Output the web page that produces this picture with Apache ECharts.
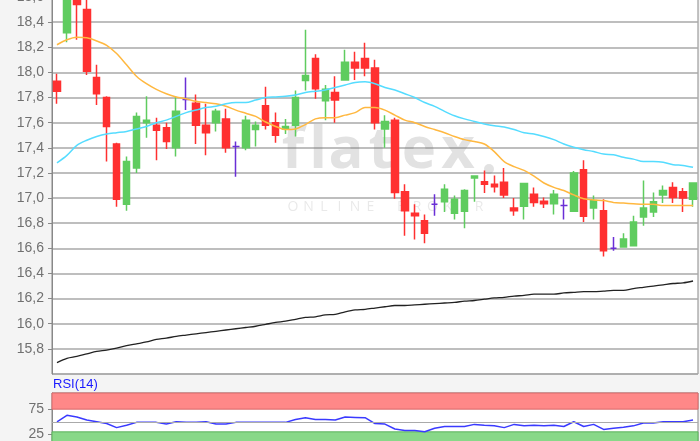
<!DOCTYPE html>
<html>
<head>
<meta charset="utf-8">
<style>
  html, body { margin: 0; padding: 0; background: #f4f4f4; }
  #chart { width: 700px; height: 441px; }
</style>
<script src="https://cdn.jsdelivr.net/npm/echarts@6/dist/echarts.min.js"></script>
</head>
<body>
<div id="chart"></div>
<script>
// daily candles
const opens = [17.93, 18.315, 18.57, 18.50, 17.96, 17.80, 17.43, 16.95, 17.24, 17.60,
  17.58, 17.56, 17.40, 17.785, 17.755, 17.58, 17.60, 17.63, 17.41, 17.40,
  17.545, 17.735, 17.60, 17.55, 17.58, 17.935, 18.11, 17.775, 17.84, 17.94,
  18.08, 18.11, 18.035, 17.55, 17.62, 17.05, 16.88, 16.82, 16.95, 16.97,
  16.88, 16.895, 17.16, 17.13, 17.11, 17.125, 16.92, 16.935, 17.03, 16.975,
  16.955, 16.94, 16.895, 17.225, 16.92, 16.90, 16.60, 16.61, 16.62, 16.85,
  16.89, 17.025, 17.085, 17.05, 16.99];
const closes = [17.85, 18.70, 18.54, 18.01, 17.83, 17.57, 16.99, 17.29, 17.65, 17.62,
  17.54, 17.45, 17.69, 17.785, 17.58, 17.52, 17.69, 17.40, 17.41, 17.62,
  17.58, 17.58, 17.50, 17.57, 17.80, 17.975, 17.87, 17.865, 17.78, 18.08,
  18.035, 18.035, 17.60, 17.61, 17.045, 16.90, 16.86, 16.72, 16.95, 17.07,
  16.99, 17.06, 17.175, 17.11, 17.09, 17.025, 16.90, 17.115, 16.965, 16.955,
  17.03, 16.94, 17.20, 16.855, 16.98, 16.58, 16.60, 16.675, 16.81, 16.92,
  16.97, 17.06, 17.005, 17.00, 17.12];
const lows = [17.75, 18.24, 18.26, 17.98, 17.74, 17.29, 16.93, 16.90, 17.20, 17.48,
  17.30, 17.39, 17.33, 17.70, 17.43, 17.34, 17.53, 17.36, 17.17, 17.38,
  17.41, 17.545, 17.44, 17.51, 17.49, 17.855, 17.79, 17.62, 17.60, 17.94,
  17.94, 17.97, 17.545, 17.40, 16.995, 16.70, 16.67, 16.64, 16.86, 16.89,
  16.83, 16.76, 16.97, 17.04, 17.045, 17.00, 16.86, 16.83, 16.93, 16.92,
  16.87, 16.83, 16.895, 16.81, 16.83, 16.535, 16.58, 16.61, 16.62, 16.78,
  16.85, 16.96, 16.96, 16.89, 16.93];
const highs = [17.99, 18.75, 18.64, 18.62, 18.06, 17.81, 17.44, 17.33, 17.68, 17.81,
  17.64, 17.60, 17.81, 17.96, 17.825, 17.75, 17.71, 17.71, 17.45, 17.655,
  17.61, 17.885, 17.68, 17.63, 17.855, 18.34, 18.145, 17.90, 17.97, 18.18,
  18.165, 18.235, 18.10, 17.66, 17.64, 17.11, 16.95, 16.87, 17.03, 17.11,
  17.02, 17.07, 17.18, 17.22, 17.18, 17.24, 17.00, 17.12, 17.085, 17.005,
  17.065, 16.99, 17.215, 17.30, 17.02, 16.99, 16.69, 16.72, 16.86, 17.14,
  17.045, 17.10, 17.125, 17.08, 17.12];

// moving averages (orange, cyan, black)
const maShort = [18.22, 18.26, 18.28, 18.275, 18.25, 18.215, 18.15, 18.06, 17.97, 17.91,
  17.865, 17.83, 17.805, 17.79, 17.77, 17.76, 17.75, 17.73, 17.70, 17.675,
  17.65, 17.605, 17.57, 17.545, 17.55, 17.585, 17.63, 17.64, 17.64, 17.66,
  17.68, 17.72, 17.72, 17.70, 17.66, 17.62, 17.60, 17.57, 17.545, 17.52,
  17.49, 17.465, 17.45, 17.43, 17.37, 17.29, 17.25, 17.22, 17.175, 17.12,
  17.085, 17.06, 17.025, 16.995, 16.985, 16.98, 16.965, 16.96, 16.955, 16.95,
  16.95, 16.94, 16.94, 16.94, 16.94];
const maMid = [17.28, 17.34, 17.42, 17.46, 17.49, 17.51, 17.52, 17.53, 17.55, 17.57,
  17.60, 17.62, 17.65, 17.68, 17.70, 17.72, 17.73, 17.75, 17.76, 17.76,
  17.78, 17.80, 17.805, 17.81, 17.82, 17.84, 17.85, 17.86, 17.88, 17.90,
  17.92, 17.925, 17.91, 17.88, 17.86, 17.83, 17.80, 17.76, 17.73, 17.69,
  17.655, 17.63, 17.61, 17.59, 17.575, 17.565, 17.545, 17.52, 17.51, 17.49,
  17.465, 17.43, 17.405, 17.385, 17.37, 17.35, 17.345, 17.325, 17.31, 17.29,
  17.29, 17.285, 17.265, 17.26, 17.245];
const maLong = [15.69, 15.725, 15.74, 15.76, 15.78, 15.79, 15.805, 15.825, 15.84, 15.855,
  15.875, 15.885, 15.90, 15.91, 15.92, 15.93, 15.94, 15.95, 15.96, 15.97,
  15.98, 15.995, 16.01, 16.02, 16.035, 16.05, 16.055, 16.07, 16.075, 16.095,
  16.11, 16.115, 16.125, 16.135, 16.145, 16.145, 16.15, 16.155, 16.16, 16.165,
  16.17, 16.18, 16.185, 16.195, 16.205, 16.21, 16.22, 16.225, 16.235, 16.235,
  16.235, 16.245, 16.25, 16.255, 16.255, 16.26, 16.265, 16.265, 16.28, 16.29,
  16.30, 16.31, 16.32, 16.325, 16.34];

// RSI(14)
const rsi = [50, 62.8, 59.3, 53.5, 50, 46.5, 38.4, 43, 48.8, 48.8,
  48.8, 45.4, 50, 48.8, 48.8, 50, 45.4, 45.4, 48.8, 48.8,
  48.8, 48.8, 48.8, 48.8, 54.6, 58.1, 54.6, 54.6, 53.5, 59.3,
  58.7, 58.1, 46.5, 45.4, 35.7, 32.6, 32.6, 30.3, 37.2, 40.7,
  40.7, 40.7, 44.8, 43, 41.9, 38.4, 44.8, 41.9, 43, 41.9,
  43, 40.7, 50, 40.7, 44.8, 34.9, 37.2, 39, 41.9, 47.7,
  47.7, 50, 50, 50, 53.5];
const rsiLabels = [25, 75];

const days = opens.map((_, i) => i + 1);

const labelFont = { color: '#707070', fontSize: 14, fontFamily: 'Liberation Sans, Arial, sans-serif' };
const ghost = 'rgba(110,110,110,0.2)';

// watermark letters
const logo = 'flatex';
const logoX = [293, 318, 346, 381, 419, 458];
const sub = 'ONLINE BROKER';

const graphics = [];
logo.split('').forEach((ch, i) => {
  graphics.push({
    type: 'text', x: logoX[i], y: 180, z: 1, silent: true,
    style: { text: ch, fill: ghost, font: 'bold 58px "Open Sans", sans-serif', align: 'center', verticalAlign: 'bottom' }
  });
});
graphics.push({ type: 'circle', shape: { cx: 489, cy: 169, r: 5 }, z: 1, silent: true, style: { fill: ghost } });
sub.split('').forEach((ch, i) => {
  graphics.push({
    type: 'text', x: 293 + 15.5 * i, y: 207, z: 1, silent: true,
    style: { text: ch, fill: 'rgba(110,110,110,0.15)', font: '14px "Open Sans", sans-serif', align: 'center', verticalAlign: 'middle' }
  });
});
graphics.push({
  type: 'text', x: 53, y: 384, silent: true,
  style: { text: 'RSI(14)', fill: '#1a1aff', font: '13px "Liberation Sans", Arial, sans-serif', verticalAlign: 'middle' }
});

const chart = echarts.init(document.getElementById('chart'));
chart.setOption({
  animation: false,
  backgroundColor: '#f4f4f4',
  graphic: graphics,
  grid: [
    { left: 52, right: 2, top: -3, bottom: 67, show: true, backgroundColor: '#fff', borderColor: '#888', borderWidth: 1, outerBoundsMode: 'none' },
    { left: 52, right: 2, top: 393, bottom: -6, show: true, backgroundColor: '#fff', borderColor: '#888', borderWidth: 1, outerBoundsMode: 'none' }
  ],
  xAxis: [
    { type: 'category', data: days, gridIndex: 0, axisLine: { show: false }, axisTick: { show: false }, axisLabel: { show: false } },
    { type: 'category', data: days, gridIndex: 1, axisLine: { show: false }, axisTick: { show: false }, axisLabel: { show: false } }
  ],
  yAxis: [
    {
      gridIndex: 0, min: 15.6, max: 18.6, interval: 0.2,
      axisLine: { show: true, lineStyle: { color: '#888' } },
      axisTick: { show: true, length: 4, lineStyle: { color: '#888' } },
      axisLabel: { ...labelFont, showMinLabel: false, margin: 8, formatter: v => v.toFixed(1).replace('.', ',') },
      splitLine: { lineStyle: { color: '#a8a8a8', width: 1.5 } }
    },
    {
      gridIndex: 1, min: 0, max: 107, interval: 25,
      axisLine: { show: true, lineStyle: { color: '#888' } },
      axisTick: { show: true, length: 4, customValues: rsiLabels, lineStyle: { color: '#888' } },
      axisLabel: { ...labelFont, margin: 8, customValues: rsiLabels },
      splitLine: { show: false }
    }
  ],
  series: [
    {
      type: 'candlestick', xAxisIndex: 0, yAxisIndex: 0, barWidth: 7, z: 3,
      data: opens.map((o, i) => [o, closes[i], lows[i], highs[i]]),
      itemStyle: {
        color: '#5fcc5f', color0: '#ff3030',
        borderColor: '#5fcc5f', borderColor0: '#ff3030',
        borderColorDoji: '#6a2fd6', borderWidth: 1.5
      }
    },
    { type: 'line', xAxisIndex: 0, yAxisIndex: 0, data: maShort, showSymbol: false, smooth: 0.3, lineStyle: { color: '#ffb840', width: 1.5 }, z: 4 },
    { type: 'line', xAxisIndex: 0, yAxisIndex: 0, data: maMid, showSymbol: false, smooth: 0.3, lineStyle: { color: '#55dcff', width: 1.5 }, z: 4 },
    { type: 'line', xAxisIndex: 0, yAxisIndex: 0, data: maLong, showSymbol: false, smooth: 0.3, lineStyle: { color: '#222', width: 1.3 }, z: 4 },
    {
      type: 'line', xAxisIndex: 1, yAxisIndex: 1, data: rsi, showSymbol: false,
      lineStyle: { color: '#3a3aff', width: 1.5 }, z: 4,
      markArea: {
        silent: true,
        data: [
          [{ yAxis: 75, itemStyle: { color: '#ff8888', borderColor: '#d96a6a', borderWidth: 1 } }, { yAxis: 107 }],
          [{ yAxis: 0, itemStyle: { color: '#88d888', borderColor: '#5cb35c', borderWidth: 1 } }, { yAxis: 30 }]
        ]
      },
      markLine: {
        silent: true, symbol: 'none', label: { show: false },
        lineStyle: { color: '#aaa', type: 'solid', width: 1 },
        data: [{ yAxis: 50 }]
      }
    }
  ]
});
</script>
</body>
</html>
